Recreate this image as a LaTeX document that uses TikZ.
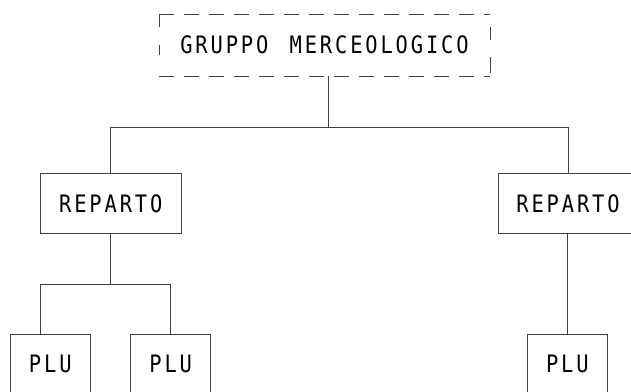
\documentclass[tikz,border=0pt]{standalone}
\usepackage{fontspec}
\newfontfamily\cadfont[FakeStretch=0.85,LetterSpace=12,WordSpace=1.4]{DejaVu Sans Mono}
\begin{document}
\begin{tikzpicture}[x=1pt,y=-1pt,
  box/.style={draw=black!75, line width=0.9pt, rectangle, inner sep=0pt, font=\cadfont\fontsize{24}{24}\selectfont},
  conn/.style={draw=black!75, line width=0.9pt}]
\clip (0,0) rectangle (631,391);
\fill[white] (0,0) rectangle (631,391);
% top dashed node
\node[box, draw=none, minimum width=330pt, minimum height=61pt] (gm) at (324.5,45) {GRUPPO MERCEOLOGICO};
\draw[conn, dash pattern=on 15pt off 10pt] (gm.north west) -- (gm.north east);
\draw[conn, dash pattern=on 15pt off 10pt] (gm.south west) -- (gm.south east);
\draw[conn, dash pattern=on 13pt off 18pt on 10pt off 30pt] (gm.north west) -- (gm.south west);
\draw[conn, dash pattern=on 0pt off 13pt on 13pt off 17pt on 16pt off 5pt] (gm.north east) -- (gm.south east);
% second level
\node[box, minimum width=140.5pt, minimum height=60pt] (rep1) at (110.8,203.3) {REPARTO};
\node[box, minimum width=140pt, minimum height=60pt] (rep2) at (568,203.3) {REPARTO};
% third level
\node[box, minimum width=80pt, minimum height=60pt] (plu1) at (50.3,364) {PLU};
\node[box, minimum width=80pt, minimum height=60pt] (plu2) at (170.7,364) {PLU};
\node[box, minimum width=80pt, minimum height=60pt] (plu3) at (567.3,364) {PLU};
% connectors
\coordinate (bus) at (328,127);
\coordinate (bus2) at (110.8,284);
\draw[conn] (gm.south -| bus) -- (bus);
\draw[conn] (bus) -| (rep1.north);
\draw[conn] (bus) -| (rep2.north);
\draw[conn] (rep1.south) -- (bus2);
\draw[conn] (bus2) -| ([xshift=-9.6pt]plu1.north);
\draw[conn] (bus2) -| (plu2.north);
\draw[conn] (plu3.north |- rep2.south) -- (plu3.north);
\end{tikzpicture}
\end{document}
